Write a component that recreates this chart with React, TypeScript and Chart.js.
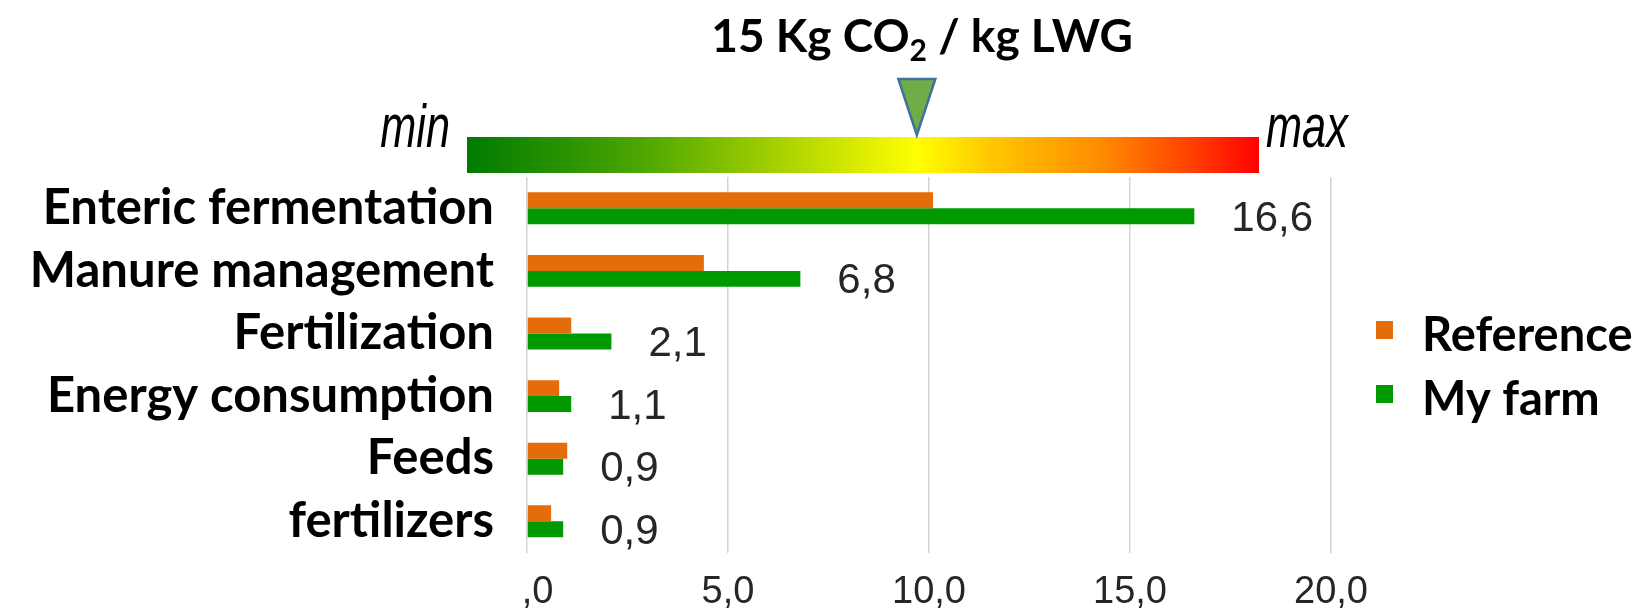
import React, { useEffect, useRef } from "react";
import { Chart, registerables } from "chart.js";

Chart.register(...registerables);

const categories = [
  "Enteric fermentation",
  "Manure management",
  "Fertilization",
  "Energy consumption",
  "Feeds",
  "fertilizers",
];
const referenceValues = [10.1, 4.4, 1.1, 0.8, 1.0, 0.6];
const myFarmValues = [16.6, 6.8, 2.1, 1.1, 0.9, 0.9];
const seriesNames = ["Reference", "My farm"];
const seriesColors = ["#E46C0A", "#009900"];
const xTickLabels = ["0,0", "5,0", "10,0", "15,0", "20,0"];
const titleParts = ["15 Kg CO", "2", " / kg LWG"];
const gaugeLabels = ["min", "max"];
const markerFraction = 0.568;

const BOLD = "Lato, 'Open Sans', sans-serif";
const PLAIN = "'Liberation Sans', Arial, sans-serif";

const overlayPlugin = {
  id: "overlay",
  afterDatasetsDraw(chart: any) {
    const ctx = chart.ctx as CanvasRenderingContext2D;
    const meta = chart.getDatasetMeta(1);
    ctx.save();
    ctx.font = `42px ${PLAIN}`;
    ctx.fillStyle = "#262626";
    ctx.textAlign = "left";
    ctx.textBaseline = "middle";
    meta.data.forEach((bar: any, i: number) => {
      const v = chart.data.datasets[1].data[i] as number;
      ctx.fillText(v.toFixed(1).replace(".", ","), bar.x + 37, bar.y + 3);
    });
    ctx.restore();
  },
  afterDraw(chart: any) {
    const ctx = chart.ctx as CanvasRenderingContext2D;
    ctx.save();
    // clip of first tick label
    ctx.fillStyle = "#ffffff";
    ctx.fillRect(440, 562, 81, 53);

    // Title
    const mainFont = `bold 46px ${BOLD}`;
    const subFont = `bold 30px ${BOLD}`;
    ctx.font = mainFont;
    const w0 = ctx.measureText(titleParts[0]).width;
    const w2 = ctx.measureText(titleParts[2]).width;
    ctx.font = subFont;
    const w1 = ctx.measureText(titleParts[1]).width;
    const total = w0 + w1 + w2;
    let x = 922 - total / 2;
    const base = 52;
    ctx.fillStyle = "#000";
    ctx.textAlign = "left";
    ctx.textBaseline = "alphabetic";
    ctx.font = mainFont;
    ctx.fillText(titleParts[0], x, base);
    x += w0;
    ctx.font = subFont;
    ctx.fillText(titleParts[1], x, base + 9);
    x += w1;
    ctx.font = mainFont;
    ctx.fillText(titleParts[2], x, base);

    // Gauge bar
    const gl = 467, gr = 1259, gt = 137, gb = 173;
    const grad = ctx.createLinearGradient(gl, 0, gr, 0);
    grad.addColorStop(0, "#007A00");
    grad.addColorStop(0.22, "#4CA600");
    grad.addColorStop(0.42, "#B4D800");
    grad.addColorStop(0.568, "#FFFF00");
    grad.addColorStop(0.66, "#FFC800");
    grad.addColorStop(0.8, "#FF8C00");
    grad.addColorStop(0.92, "#FF3C00");
    grad.addColorStop(1, "#FF0000");
    ctx.fillStyle = grad;
    ctx.fillRect(gl, gt, gr - gl, gb - gt);

    // min / max
    ctx.fillStyle = "#000";
    ctx.font = `italic 61px ${PLAIN}`;
    ctx.textBaseline = "alphabetic";
    ctx.save();
    ctx.translate(450, 147);
    ctx.scale(0.71, 1);
    ctx.textAlign = "right";
    ctx.fillText(gaugeLabels[0], 0, 0);
    ctx.restore();
    ctx.save();
    ctx.translate(1266, 147);
    ctx.scale(0.71, 1);
    ctx.textAlign = "left";
    ctx.fillText(gaugeLabels[1], 0, 0);
    ctx.restore();

    // Marker triangle
    const mx = gl + (gr - gl) * markerFraction;
    ctx.beginPath();
    ctx.moveTo(mx - 18.5, 79);
    ctx.lineTo(mx + 18.5, 79);
    ctx.lineTo(mx, 135);
    ctx.closePath();
    ctx.fillStyle = "#70AD47";
    ctx.fill();
    ctx.lineWidth = 2.5;
    ctx.strokeStyle = "#41719C";
    ctx.lineJoin = "miter";
    ctx.stroke();

    // Legend
    chart.data.datasets.forEach((ds: any, i: number) => {
      const cy = 330 + i * 64;
      ctx.fillStyle = ds.backgroundColor;
      ctx.fillRect(1376, cy - 9, 17, 18);
      ctx.fillStyle = "#000";
      ctx.font = `bold 47px ${BOLD}`;
      ctx.textAlign = "left";
      ctx.textBaseline = "alphabetic";
      ctx.fillText(ds.label, 1422, 351 + i * 64);
    });
    ctx.restore();
  },
};

export default function App() {
  const ref = useRef<HTMLCanvasElement>(null);
  useEffect(() => {
    document.body.style.margin = "0";
    if (!ref.current) return;
    const chart = new Chart(ref.current, {
      type: "bar",
      data: {
        labels: categories,
        datasets: [
          {
            label: seriesNames[0],
            data: referenceValues,
            backgroundColor: seriesColors[0],
            categoryPercentage: 0.51,
            barPercentage: 1,
          },
          {
            label: seriesNames[1],
            data: myFarmValues,
            backgroundColor: seriesColors[1],
            categoryPercentage: 0.51,
            barPercentage: 1,
          },
        ],
      },
      options: {
        indexAxis: "y",
        animation: false,
        responsive: false,
        devicePixelRatio: 1,
        layout: { padding: { top: 177, right: 316, left: 0, bottom: 0 } },
        plugins: {
          legend: { display: false },
          title: { display: false },
          tooltip: { enabled: false },
        },
        scales: {
          x: {
            min: 0,
            max: 20,
            ticks: {
              stepSize: 5,
              padding: 17,
              color: "#262626",
              font: { family: PLAIN, size: 38 },
              callback: (_v: any, i: number) => xTickLabels[i],
            },
            grid: { color: "#D4D4D4", lineWidth: 1.5, drawTicks: false },
            border: { display: false },
            afterFit: (s: any) => {
              s.height = 60;
            },
          },
          y: {
            ticks: {
              padding: 33,
              color: "#000",
              font: { family: BOLD, size: 49, weight: "bold" },
            },
            grid: { display: false, drawTicks: false },
            border: { display: false },
            afterFit: (s: any) => {
              s.width = 527;
            },
          },
        },
      },
      plugins: [overlayPlugin],
    });
    return () => chart.destroy();
  }, []);
  return (
    <div style={{ width: 1647, height: 615 }}>
      <canvas ref={ref} width={1647} height={615} style={{ width: 1647, height: 615 }} />
    </div>
  );
}
